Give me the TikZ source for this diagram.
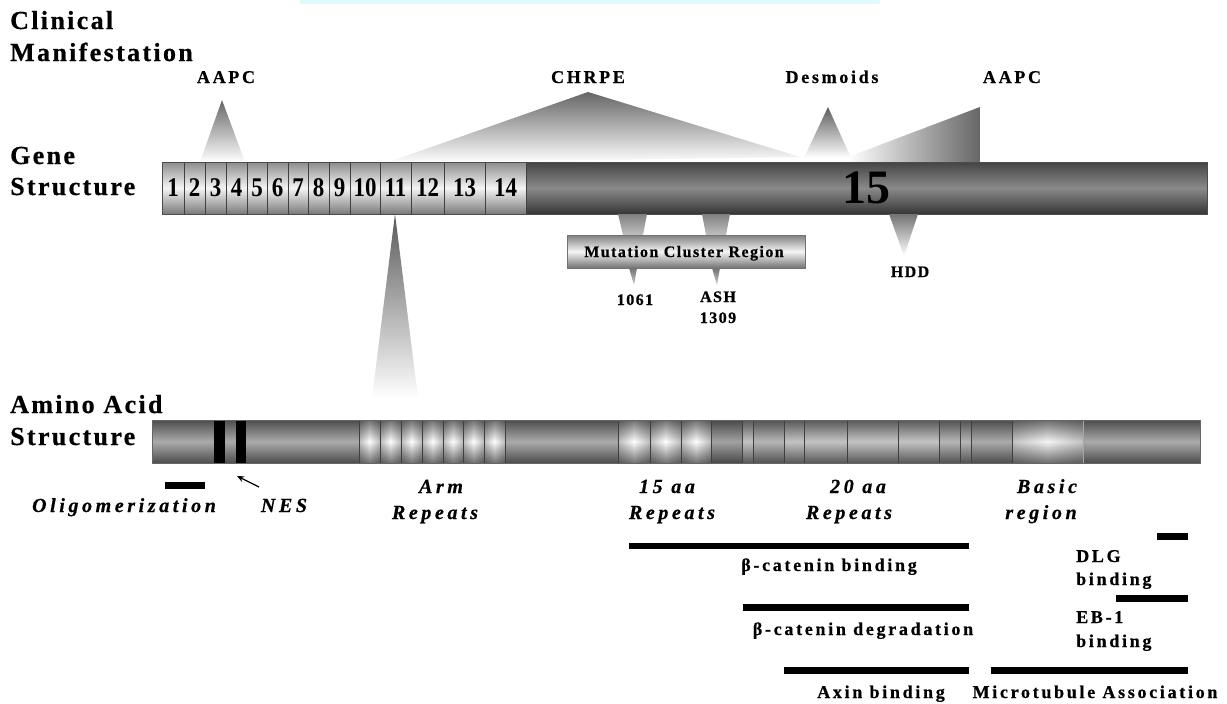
\documentclass[tikz,border=0pt]{standalone}
\usepackage{fontspec}
\setmainfont{Liberation Serif}[BoldFont={Liberation Serif Bold}, ItalicFont={Liberation Serif Italic}, BoldItalicFont={Liberation Serif Bold Italic}]
\newfontfamily\titlefont{Liberation Serif}[LetterSpace=9, BoldFont={Liberation Serif Bold}, ItalicFont={Liberation Serif Italic}, BoldItalicFont={Liberation Serif Bold Italic}, BoldFeatures={FakeBold=0.6}]
\newfontfamily\lblfont{Liberation Serif}[LetterSpace=15, BoldFont={Liberation Serif Bold}, ItalicFont={Liberation Serif Italic}, BoldItalicFont={Liberation Serif Bold Italic}, BoldFeatures={FakeBold=0.6}]
\newfontfamily\smfont{Liberation Serif}[LetterSpace=9, BoldFont={Liberation Serif Bold}, ItalicFont={Liberation Serif Italic}, BoldItalicFont={Liberation Serif Bold Italic}, BoldFeatures={FakeBold=0.6}]
\newfontfamily\itfont{Liberation Serif}[LetterSpace=18, BoldFont={Liberation Serif Bold}, ItalicFont={Liberation Serif Italic}, BoldItalicFont={Liberation Serif Bold Italic}, BoldItalicFeatures={FakeBold=0.6}]
\newfontfamily\numfont{Liberation Serif}[FakeStretch=0.85, BoldFont={Liberation Serif Bold}]
\usetikzlibrary{fadings,arrows.meta}
\tikzfading[name=edgefade, top color=transparent!45, bottom color=transparent!45, middle color=transparent!100]
\definecolor{exT}{HTML}{8C8C8C}
\definecolor{exM}{HTML}{F4F4F4}
\definecolor{exB}{HTML}{7A7A7A}
\definecolor{dkT}{HTML}{444444}
\definecolor{dkM}{HTML}{8A8A8A}
\definecolor{dkB}{HTML}{363636}
\definecolor{tri}{HTML}{666666}
\definecolor{aaBase}{HTML}{ABABAB}
\definecolor{aaLight}{HTML}{C4C4C4}
\definecolor{aaMid}{HTML}{B6B6B6}
\definecolor{aaDark}{HTML}{A2A2A2}
\definecolor{aaEdge}{HTML}{BDBDBD}
\definecolor{strip}{HTML}{DDFAFD}
\begin{document}
\begin{tikzpicture}[x=1pt,y=-1pt,
  sect/.style={font=\titlefont\bfseries\fontsize{26}{30}\selectfont, anchor=base west, inner sep=0pt},
  lbl/.style={font=\lblfont\bfseries\fontsize{18}{20}\selectfont, anchor=base, inner sep=0pt},
  small/.style={font=\smfont\bfseries\fontsize{16}{18}\selectfont, anchor=base, inner sep=0pt},
  ital/.style={font=\itfont\bfseries\itshape\fontsize{20}{24}\selectfont, anchor=base, inner sep=0pt},
  blbl/.style={font=\lblfont\bfseries\fontsize{18}{22}\selectfont, anchor=base, inner sep=0pt},
  blblw/.style={blbl, anchor=base west},
  num/.style={font=\numfont\bfseries\fontsize{27}{30}\selectfont, anchor=center, inner sep=0pt},
  sep/.style={draw=black!75, line width=0.8pt},
  bindbar/.style={fill=black},
  exon/.style={top color=exT, bottom color=exB, middle color=exM},
  trishade/.style={top color=tri, bottom color=white},
]
\useasboundingbox (0,0) rectangle (1227,704);
\fill[white] (0,0) rectangle (1227,704);
\fill[strip] (300,0) rectangle (880,4);

% ---------- section titles ----------
\node[sect] (t1) at (10,29) {Clinical};
\node[sect] (t2) at (10,61) {Manifestation};
\node[sect] (t3) at (10,164) {Gene};
\node[sect] (t4) at (10,195) {Structure};
\node[sect] (t5) at (10,413) {Amino Acid};
\node[sect] (t6) at (10,445) {Structure};

% ---------- clinical triangles ----------
\shade[trishade] (588,92) -- (800,157) -- (386,163) -- cycle;
\shade[trishade] (222,100) -- (245,162) -- (200,162) -- cycle;
\shade[left color=white, right color=tri] (848,157) -- (980,107) -- (980,162) -- (848,162) -- cycle;
\shade[top color=tri!90!black, bottom color=white] (828,107) -- (851,158) -- (804,158) -- cycle;
\node[lbl] (aapc1) at (226,83) {AAPC};
\node[lbl] (chrpe) at (588,83) {CHRPE};
\node[lbl] (desm) at (832,83) {Desmoids};
\node[lbl] (aapc2) at (1012,83) {AAPC};

% ---------- gene structure ----------
\shade[top color=dkT, bottom color=dkB, middle color=dkM] (526,162) rectangle (1207,214);
\foreach \a/\b/\n in {162/184/1,184/205/2,205/226/3,226/247/4,247/267/5,267/288/6,288/308/7,308/329/8,329/350/9,350/380/10,380/411/11,411/444/12,444/485/13,485/526/14}{
  \shade[exon] (\a,162) rectangle (\b,214);
  \draw[sep] (\a,162) -- (\a,214);
  \node[num] (ex\n) at ({(\a+\b)/2},188) {\n};
}
\draw[sep] (526,162) -- (526,214);
\draw[black!70, line width=0.8pt] (162,162) rectangle (1207,214);
\node[font=\bfseries\fontsize{48}{50}\selectfont, inner sep=0pt] (ex15) at (866,188) {15};

% ---------- below gene bar ----------
\shade[top color=black!50, bottom color=black!25] (618,214) -- (647,214) -- (643,235) -- (623,235) -- cycle;
\shade[top color=black!50, bottom color=black!25] (702,214) -- (730,214) -- (726,235) -- (706,235) -- cycle;
\shade[top color=black!50, bottom color=black!55, middle color=black!4] (567,235) rectangle (805,268);
\draw[black!55, line width=0.6pt] (567,235) rectangle (805,268);
\node[small] (mcr) at (684,257) {Mutation Cluster Region};
\shade[top color=black!55, bottom color=black!20] (629,268) -- (637,268) -- (634,285) -- cycle;
\shade[top color=black!55, bottom color=black!20] (712,268) -- (720,268) -- (717,285) -- cycle;
\node[small] (m1061) at (635,305) {1061};
\node[small] (ash) at (718,302) {ASH};
\node[small] (m1309) at (718,323) {1309};
\shade[top color=black!55, bottom color=white] (889,214) -- (918,214) -- (904,256) -- cycle;
\node[small] (hdd) at (910,277) {HDD};

% funnel from exon 11 to amino acid structure
\coordinate (fTop) at (395,214);
\shade[top color=black!65, bottom color=white] (fTop) -- (418,398) -- (372,398) -- cycle;

% ---------- amino acid bar ----------
\fill[aaBase] (152,420) rectangle (1200,463);
\fill[black] (214,420) rectangle (225,463);
\fill[black] (236,420) rectangle (246,463);
\foreach \a/\b in {359/380,380/401,401/422,422/443,443/463,463/484,484/505,618/650,650/681,681/711}{
  \shade[left color=aaEdge, right color=aaEdge, middle color=white] (\a,420) rectangle (\b,463);
}
\fill[aaDark] (711,420) rectangle (742,463);
\fill[aaLight] (742,420) rectangle (753,463);
\fill[aaMid] (753,420) rectangle (784,463);
\fill[aaLight] (784,420) rectangle (804,463);
\fill[aaLight] (804,420) rectangle (939,463);
\fill[aaMid] (939,420) rectangle (971,463);
\fill[aaBase] (971,420) rectangle (1012,463);
\shade[left color=aaLight, right color=aaLight, middle color=black!4] (1012,420) rectangle (1083,463);
\begin{scope}
  \clip (152,420) rectangle (1200,463);
  \fill[black, path fading=edgefade] (120,420) rectangle (1230,463);
\end{scope}
\foreach \x in {359,380,401,422,443,463,484,505,618,650,681,711,742,753,784,804,847,898,939,960,971,1012}{
  \draw[sep] (\x,420) -- (\x,463);
}
\draw[black!35, line width=0.6pt] (1083,420) -- (1083,463);
\draw[black!60, line width=0.8pt] (152,420) rectangle (1200,463);

% ---------- domain labels ----------
\fill[bindbar] (165,482) rectangle (205,489);
\node[ital] (olig) at (124,512) {Oligomerization};
\node[ital] (nes) at (284,512) {NES};
\coordinate (nesTail) at (259,487);
\coordinate (nesHead) at (237,476);
\draw[line width=1.3pt, -{Stealth[length=7pt,width=6pt]}] (nesTail) -- (nesHead);
\node[ital] (arm1) at (441,493) {Arm};
\node[ital] (arm2) at (435,519) {Repeats};
\node[ital] (r15a) at (667,493) {15 aa};
\node[ital] (r15b) at (672,519) {Repeats};
\node[ital] (r20a) at (858,493) {20 aa};
\node[ital] (r20b) at (849,519) {Repeats};
\node[ital] (bas1) at (1047,493) {Basic};
\node[ital] (bas2) at (1041,519) {region};

% ---------- binding bars ----------
\fill[bindbar] (629,543) rectangle (969,549);
\node[blbl] (bcb) at (829,571) {β-catenin binding};
\fill[bindbar] (1157,533) rectangle (1188,540);
\node[blblw] (dlg1) at (1076,562) {DLG};
\node[blblw] (dlg2) at (1076,585) {binding};
\fill[bindbar] (743,604) rectangle (969,611);
\node[blbl] (bcd) at (863,635) {β-catenin degradation};
\fill[bindbar] (1116,595) rectangle (1188,602);
\node[blblw] (eb1) at (1076,623) {EB-1};
\node[blblw] (eb2) at (1076,647) {binding};
\fill[bindbar] (784,667) rectangle (969,674);
\node[blbl] (axin) at (881,698) {Axin binding};
\fill[bindbar] (991,667) rectangle (1188,674);
\node[blbl] (micro) at (1095,698) {Microtubule Association};
\end{tikzpicture}
\end{document}
